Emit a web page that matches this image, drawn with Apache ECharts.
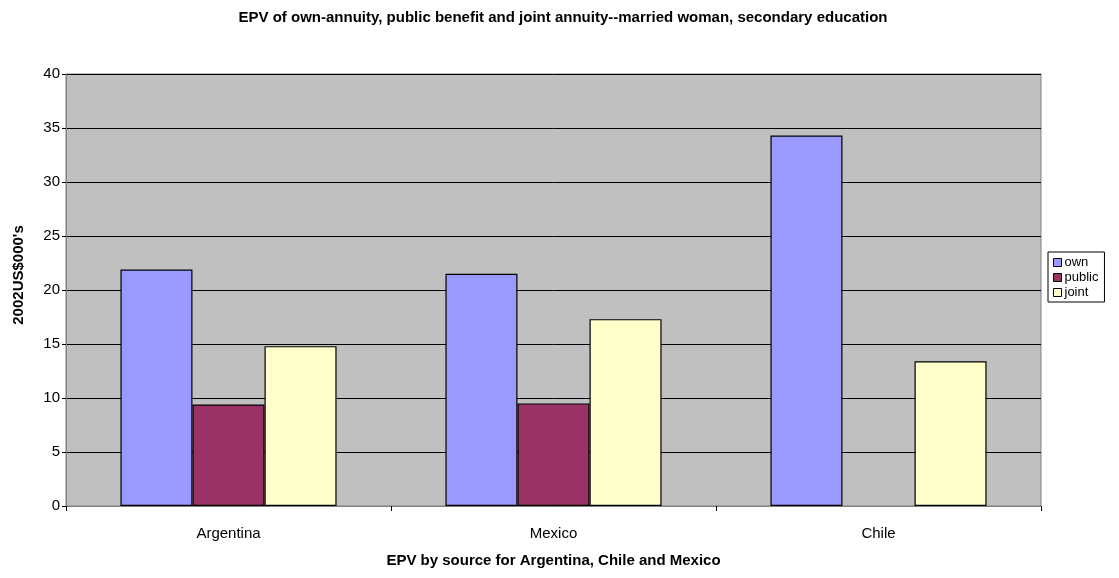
<!DOCTYPE html>
<html>
<head>
<meta charset="utf-8">
<script src="https://cdn.jsdelivr.net/npm/echarts@6/dist/echarts.min.js"></script>
<style>
  html, body { margin: 0; padding: 0; background: #fff; }
  #chart { width: 1119px; height: 578px; }
</style>
</head>
<body>
<div id="chart"></div>
<script>
// Countries on the category axis
const countries = ['Argentina', 'Mexico', 'Chile'];

// EPV by source, 2002 US$ thousands
const ownValues = [21.9, 21.5, 34.3];
const publicValues = [9.4, 9.5, null];
const jointValues = [14.8, 17.3, 13.4];

const yTicks = { min: 0, max: 40, step: 5 };

const FONT = '"Liberation Sans", Arial, sans-serif';

const chart = echarts.init(document.getElementById('chart'), null, { renderer: 'canvas' });

function barSeries(name, data, color) {
  return {
    name: name,
    type: 'bar',
    data: data,
    barGap: '0%',
    barCategoryGap: '33.5%',
    itemStyle: { color: color, borderColor: '#000', borderWidth: 1.2 },
    emphasis: { disabled: true }
  };
}

chart.setOption({
  animation: false,
  backgroundColor: '#ffffff',
  title: {
    text: 'EPV of own-annuity, public benefit and joint annuity--married woman, secondary education',
    left: 558, top: 5, textAlign: 'center',
    textStyle: { fontFamily: FONT, fontSize: 15, fontWeight: 'bold', color: '#000' }
  },
  legend: {
    orient: 'vertical',
    left: 1048, top: 252,
    padding: [4, 6, 3, 5],
    itemGap: 2,
    itemWidth: 8, itemHeight: 8,
    backgroundColor: '#fff',
    borderColor: '#000', borderWidth: 1,
    icon: 'rect',
    itemStyle: { borderColor: '#000', borderWidth: 1 },
    textStyle: { fontFamily: FONT, fontSize: 13, color: '#000', padding: [0, 0, 0, -2] },
    data: ['own', 'public', 'joint']
  },
  grid: {
    left: 66, right: 78, top: 74, bottom: 72,
    show: true, backgroundColor: '#c0c0c0', borderColor: '#808080', borderWidth: 1
  },
  xAxis: {
    type: 'category',
    data: countries,
    name: 'EPV by source for Argentina, Chile and Mexico',
    nameLocation: 'middle', nameGap: 47,
    nameTextStyle: { fontFamily: FONT, fontSize: 15, fontWeight: 'bold', color: '#000' },
    axisLine: { lineStyle: { color: '#808080', width: 1 } },
    axisTick: { show: true, length: 5, lineStyle: { color: '#000' } },
    axisLabel: { fontFamily: FONT, fontSize: 15, color: '#000', margin: 20 }
  },
  yAxis: {
    type: 'value',
    min: yTicks.min, max: yTicks.max, interval: yTicks.step,
    name: "2002US$000's",
    nameLocation: 'middle', nameGap: 40,
    nameTextStyle: { fontFamily: FONT, fontSize: 15, fontWeight: 'bold', color: '#000', padding: [0, 0, 0, 30] },
    axisLine: { show: true, lineStyle: { color: '#808080', width: 1 } },
    axisTick: { show: true, length: 4, lineStyle: { color: '#000' } },
    axisLabel: { fontFamily: FONT, fontSize: 15, color: '#000', margin: 6 },
    splitLine: { show: true, lineStyle: { color: '#000', width: 1 } }
  },
  series: [
    barSeries('own', ownValues, '#9999ff'),
    barSeries('public', publicValues, '#993366'),
    barSeries('joint', jointValues, '#ffffcc')
  ]
});
</script>
</body>
</html>
